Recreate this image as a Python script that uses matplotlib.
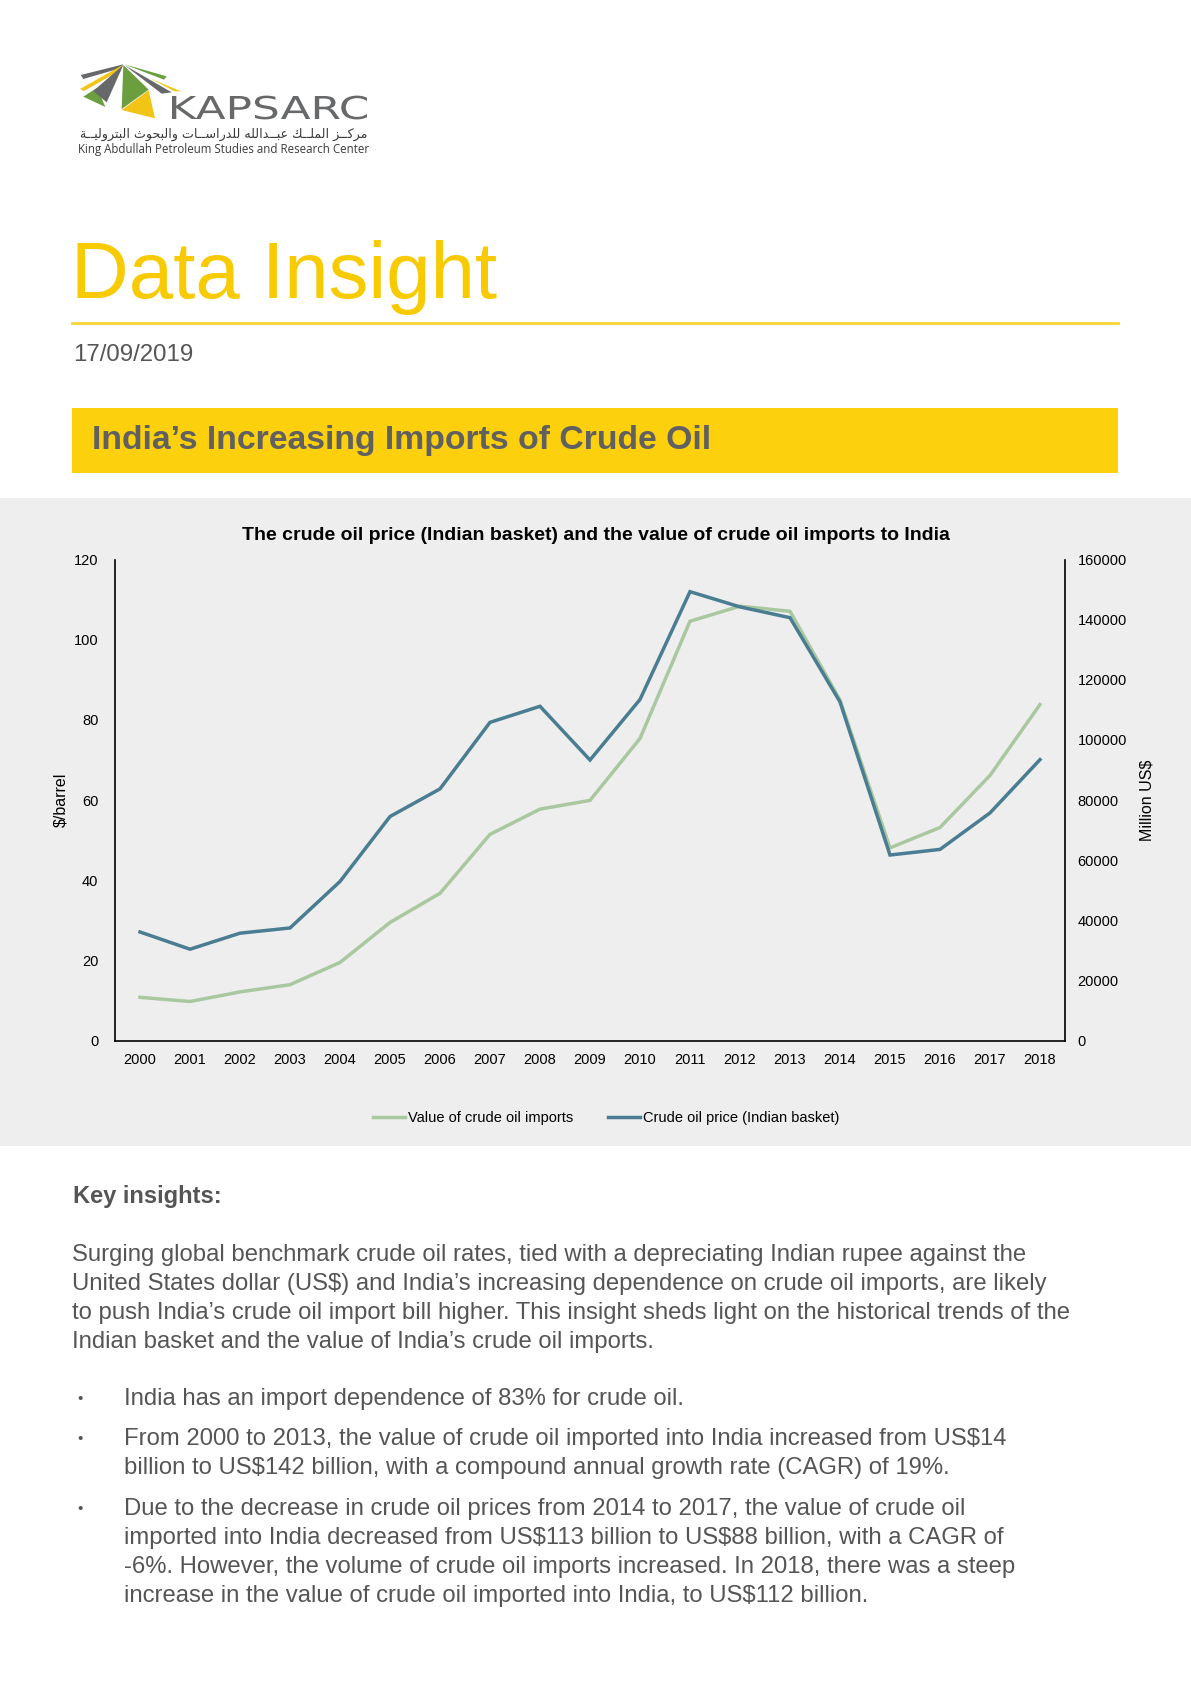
import matplotlib
matplotlib.use("Agg")
import matplotlib.pyplot as plt
from matplotlib.patches import Rectangle, Polygon, PathPatch
from matplotlib.textpath import TextPath
from matplotlib.font_manager import FontProperties
from matplotlib.transforms import Affine2D

# data
years = [str(y) for y in range(2000, 2019)]
price = [27.1, 22.8, 26.8, 28.1, 39.7, 55.9, 62.8, 79.4, 83.4, 70.0,
         85.1, 112.0, 108.2, 105.5, 84.5, 46.3, 47.7, 56.8, 70.1]
imports = [14400, 13000, 16200, 18600, 26000, 39300, 49000, 68600, 77000, 79900,
           100500, 139500, 144500, 142800, 113300, 64100, 70900, 88200, 111800]
left_ticks = [0, 20, 40, 60, 80, 100, 120]
right_ticks = [0, 20000, 40000, 60000, 80000, 100000, 120000, 140000, 160000]

GREEN = "#a9c8a0"
BLUE = "#4a7d92"
YELLOW = "#fcd00d"
LOGO_GREY = "#67686a"

W, H = 1191, 1684
plt.rcParams["font.family"] = ["Liberation Sans", "DejaVu Sans"]

fig = plt.figure(figsize=(W / 100, H / 100), dpi=100)
fig.patch.set_facecolor("white")

# page layer in pixel coordinates (y down)
page = fig.add_axes([0, 0, 1, 1])
page.set_xlim(0, W)
page.set_ylim(H, 0)
page.axis("off")


def shape_arabic(s):
    # minimal contextual shaping for the logo line (iso, fin, ini, med)
    forms = {
        "ا": ("\ufe8d", "\ufe8e"), "ة": ("\ufe93", "\ufe94"), "د": ("\ufea9", "\ufeaa"),
        "ر": ("\ufead", "\ufeae"), "ز": ("\ufeaf", "\ufeb0"), "و": ("\ufeed", "\ufeee"),
        "ب": ("\ufe8f", "\ufe90", "\ufe91", "\ufe92"), "ت": ("\ufe95", "\ufe96", "\ufe97", "\ufe98"),
        "ث": ("\ufe99", "\ufe9a", "\ufe9b", "\ufe9c"), "ح": ("\ufea1", "\ufea2", "\ufea3", "\ufea4"),
        "س": ("\ufeb1", "\ufeb2", "\ufeb3", "\ufeb4"), "ع": ("\ufec9", "\ufeca", "\ufecb", "\ufecc"),
        "ك": ("\ufed9", "\ufeda", "\ufedb", "\ufedc"), "ل": ("\ufedd", "\ufede", "\ufedf", "\ufee0"),
        "م": ("\ufee1", "\ufee2", "\ufee3", "\ufee4"), "ه": ("\ufee9", "\ufeea", "\ufeeb", "\ufeec"),
        "ي": ("\ufef1", "\ufef2", "\ufef3", "\ufef4"), "ـ": ("ـ", "ـ", "ـ", "ـ"),
    }
    out = []
    for i, c in enumerate(s):
        if c not in forms:
            out.append(c)
            continue
        prev = s[i - 1] if i > 0 else " "
        nxt = s[i + 1] if i + 1 < len(s) else " "
        jp = prev in forms and len(forms[prev]) == 4
        jn = nxt in forms and len(forms[c]) == 4
        f = forms[c]
        if jp and jn:
            out.append(f[3])
        elif jp:
            out.append(f[1])
        elif jn:
            out.append(f[2])
        else:
            out.append(f[0])
    return "".join(out)[::-1]


# logo (rough)
def lp(pts):
    return [(x / 3 + 70, y / 3 + 55) for x, y in pts]

logo_shapes = [
    ([(32, 60), (160, 28), (150, 40), (40, 72)], LOGO_GREY),
    ([(30, 102), (158, 30), (135, 55), (42, 108)], "#f2c416"),
    ([(40, 125), (82, 98), (106, 156)], "#6a9e3f"),
    ([(70, 108), (160, 30), (110, 142)], LOGO_GREY),
    ([(163, 28), (290, 64), (282, 74)], "#6a9e3f"),
    ([(163, 30), (305, 112), (275, 116)], LOGO_GREY),
    ([(240, 70), (335, 110), (312, 108)], "#f2c416"),
    ([(160, 30), (155, 162), (236, 104)], "#6a9e3f"),
    ([(155, 165), (255, 190), (236, 106)], "#f2c416"),
]
for pts, col in logo_shapes:
    page.add_patch(Polygon(lp(pts), closed=True, color=col, lw=0))

# KAPSARC wordmark fitted into its box
tp = TextPath((0, 0), "KAPSARC", size=1, prop=FontProperties(family="DejaVu Sans"))
ext = tp.get_extents()
tr = (Affine2D().translate(-ext.x0, 0).scale(195 / ext.width, -23 / 0.729)
      .translate(172, 119) + page.transData)
page.add_patch(PathPatch(tp, transform=tr, color=LOGO_GREY, lw=0))
page.text(367, 134, shape_arabic("مركــز الملــك عبــدالله للدراســات والبحوث البتروليــة"),
          family="DejaVu Sans", fontsize=9.1, color="#3a3a3a", ha="right", va="center")
page.text(78, 149, "King Abdullah Petroleum Studies and Research Center",
          family=["Open Sans", "Liberation Sans"], fontsize=8.3, color="#3a3a3a",
          ha="left", va="center")

# header
page.text(71, 298, "Data Insight", fontsize=57.5, color="#f8ca00", ha="left", va="baseline")
page.plot([72, 1118], [323, 323], color="#f8d437", lw=2)
page.text(73, 355, "17/09/2019", fontsize=17.3, color="#555555", ha="left", va="center")
page.add_patch(Rectangle((72, 408), 1046, 65, color=YELLOW, lw=0))
page.text(92, 440, "India’s Increasing Imports of Crude Oil", fontsize=24.3, weight="bold",
          color="#606060", ha="left", va="center")

# grey chart band
page.add_patch(Rectangle((0, 498), W, 648, color="#eeeeee", lw=0))
page.text(596, 536, "The crude oil price (Indian basket) and the value of crude oil imports to India",
          fontsize=14, weight="bold", color="black", ha="center", va="center")

# chart
ax = fig.add_axes([115 / W, 1 - 1040.6 / H, 950 / W, 481 / H])
ax2 = ax.twinx()
x = list(range(len(years)))
g, = ax2.plot(x, imports, color=GREEN, lw=2.5, solid_joinstyle="miter")
b, = ax.plot(x, price, color=BLUE, lw=2.5, solid_joinstyle="miter")
ax.set_zorder(ax2.get_zorder() + 1)
ax.patch.set_visible(False)
ax2.patch.set_facecolor("#eeeeee")

ax.set_xlim(-0.5, len(years) - 0.5)
ax.set_ylim(0, 120)
ax2.set_ylim(0, 160000)
ax.set_yticks(left_ticks)
ax2.set_yticks(right_ticks)
ax.set_xticks(x)
ax.set_xticklabels(years)
for a in (ax, ax2):
    a.tick_params(length=0, labelsize=10.5, colors="black")
    a.spines["top"].set_visible(False)
    for s in ("left", "right", "bottom"):
        a.spines[s].set_linewidth(1.2)
ax.spines["right"].set_visible(False)
ax2.spines["left"].set_visible(False)
ax2.spines["bottom"].set_visible(False)
ax.tick_params(axis="y", pad=12)
ax2.tick_params(axis="y", pad=9)
ax.tick_params(axis="x", pad=9)
ax.set_ylabel(r"\$/barrel", fontsize=11.5)
ax2.set_ylabel(r"Million US\$", fontsize=11.5)
ax.yaxis.set_label_coords(-0.049, 0.5)
ax2.yaxis.set_label_coords(1.078, 0.5)

fig.legend([g, b], ["Value of crude oil imports", "Crude oil price (Indian basket)"],
           loc="center", bbox_to_anchor=(606 / W, 1 - 1118 / H), ncol=2, frameon=False,
           fontsize=10.5, handlelength=2.2, handletextpad=0.2, columnspacing=2.4)

# text body
TXT = "#555555"
BODY = 17.2
page.text(73, 1196, "Key insights:", fontsize=17, weight="bold", color=TXT, ha="left", va="center")
para = [
    "Surging global benchmark crude oil rates, tied with a depreciating Indian rupee against the",
    r"United States dollar (US\$) and India’s increasing dependence on crude oil imports, are likely",
    "to push India’s crude oil import bill higher. This insight sheds light on the historical trends of the",
    "Indian basket and the value of India’s crude oil imports.",
]
for i, line in enumerate(para):
    page.text(72, 1255 + i * 29, line, fontsize=BODY, color=TXT, ha="left", va="center")

bullets = [
    (1399, ["India has an import dependence of 83% for crude oil."]),
    (1439, [r"From 2000 to 2013, the value of crude oil imported into India increased from US\$14",
            r"billion to US\$142 billion, with a compound annual growth rate (CAGR) of 19%."]),
    (1509, [r"Due to the decrease in crude oil prices from 2014 to 2017, the value of crude oil",
            r"imported into India decreased from US\$113 billion to US\$88 billion, with a CAGR of",
            "-6%. However, the volume of crude oil imports increased. In 2018, there was a steep",
            r"increase in the value of crude oil imported into India, to US\$112 billion."]),
]
for y0, lines in bullets:
    page.text(77, y0, "•", fontsize=11, color=TXT, ha="left", va="center")
    for i, line in enumerate(lines):
        page.text(124, y0 + i * 29, line, fontsize=BODY, color=TXT, ha="left", va="center")

fig.savefig("out.png", dpi=100)
